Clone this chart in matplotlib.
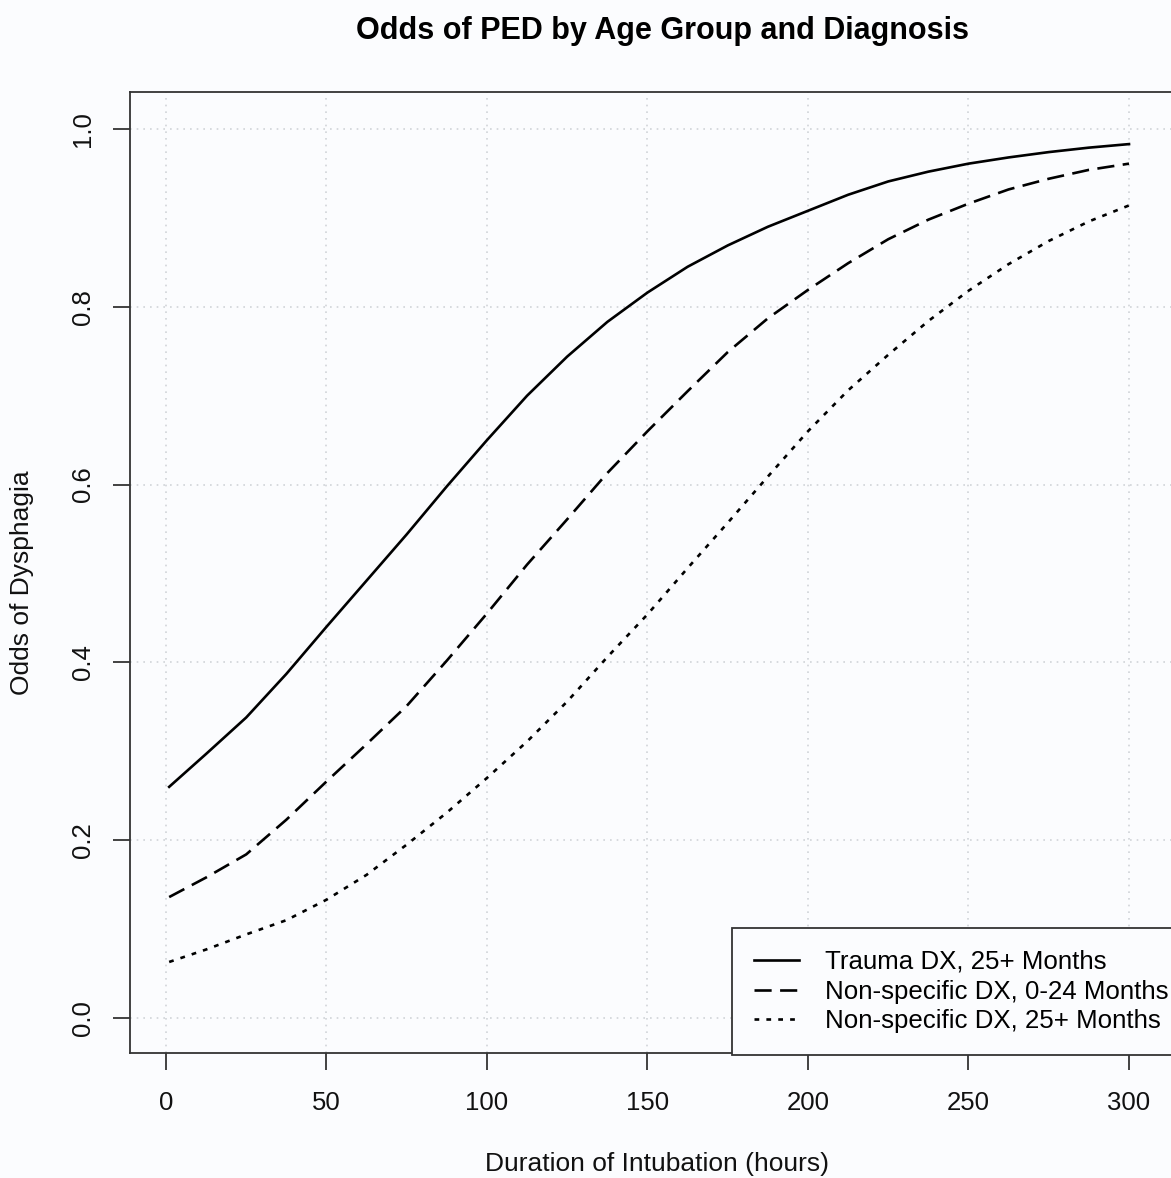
import numpy as np
import matplotlib.pyplot as plt

plt.rcParams['font.family'] = ['Liberation Sans', 'DejaVu Sans']

# predicted odds, every 12.5 hours
hours = [1, 12.5, 25, 37.5, 50, 62.5, 75, 87.5, 100, 112.5, 125, 137.5, 150,
         162.5, 175, 187.5, 200, 212.5, 225, 237.5, 250, 262.5, 275, 287.5, 300]
trauma_25plus = [0.260, 0.297, 0.338, 0.387, 0.440, 0.492, 0.544, 0.598, 0.650, 0.700, 0.744, 0.783, 0.816,
                 0.845, 0.869, 0.890, 0.908, 0.926, 0.941, 0.952, 0.961, 0.968, 0.974, 0.979, 0.983]
nonspec_0_24 = [0.136, 0.158, 0.184, 0.223, 0.266, 0.308, 0.351, 0.402, 0.455, 0.510, 0.561, 0.613, 0.660,
                0.705, 0.749, 0.787, 0.819, 0.849, 0.876, 0.898, 0.916, 0.932, 0.944, 0.954, 0.961]
nonspec_25plus = [0.063, 0.077, 0.094, 0.110, 0.133, 0.161, 0.195, 0.231, 0.270, 0.311, 0.356, 0.406, 0.454,
                  0.506, 0.557, 0.609, 0.660, 0.706, 0.746, 0.784, 0.818, 0.848, 0.874, 0.896, 0.914]

labels = ['Trauma DX, 25+ Months', 'Non-specific DX, 0-24 Months', 'Non-specific DX, 25+ Months']
xticks = [0, 50, 100, 150, 200, 250, 300]
yticks = [0.0, 0.2, 0.4, 0.6, 0.8, 1.0]

W, H = 1171, 1178
bg = '#fbfcfe'
fig = plt.figure(figsize=(W / 100, H / 100), dpi=100, facecolor=bg)
# plot region (right edge runs off the picture, like the source)
L, R, T, B = 130, 1190, 92, 1053
ax = fig.add_axes([L / W, 1 - B / H, (R - L) / W, (B - T) / H], facecolor=bg)

ax.set_xlim(-11.2, (R - 166) / 3.21)
ax.set_ylim(-0.0394, 1.0416)

ax.set_xticks(xticks)
ax.set_yticks(yticks)
ax.set_yticklabels([f'{v:.1f}' for v in yticks])
ax.grid(True, color='#d0d4d8', linestyle=(0, (1, 3)), linewidth=1.2)
ax.set_axisbelow(True)

lw = 1.9
ax.plot(hours, trauma_25plus, color='black', lw=lw, label=labels[0])
ax.plot(hours, nonspec_0_24, color='black', lw=lw, linestyle=(0, (6.5, 3.2)),
        dash_capstyle='butt', label=labels[1])
ax.plot(hours, nonspec_25plus, color='black', lw=lw, linestyle=(0, (1.8, 2.7)),
        dash_capstyle='butt', label=labels[2])

for s in ax.spines.values():
    s.set_color('#333333')
    s.set_linewidth(1.3)

ax.tick_params(axis='both', direction='out', length=12, width=1.3, color='#333333',
               labelsize=18.5, labelcolor='#111111')
ax.tick_params(axis='x', pad=15)
ax.tick_params(axis='y', pad=13)
plt.setp(ax.get_yticklabels(), rotation=90, va='center')

ax.set_xlabel('Duration of Intubation (hours)', fontsize=19, color='#111111')
ax.set_ylabel('Odds of Dysphagia', fontsize=19, color='#111111')
ax.xaxis.set_label_coords(657 / W, 1 - 1152 / H, transform=fig.transFigure)
ax.yaxis.set_label_coords(34 / W, 1 - 583 / H, transform=fig.transFigure)

fig.text(663 / W, 1 - 31 / H, 'Odds of PED by Age Group and Diagnosis',
         ha='center', va='center', fontsize=22, fontweight='bold')

leg = ax.legend(loc='upper left', bbox_to_anchor=(732 / W, 1 - 928 / H),
                bbox_transform=fig.transFigure, fontsize=18.6, frameon=True,
                fancybox=False, handlelength=1.75, handletextpad=1.0,
                labelspacing=0.22, borderpad=0.85, borderaxespad=0)
leg.get_frame().set_edgecolor('#333333')
leg.get_frame().set_linewidth(1.3)
leg.get_frame().set_facecolor(bg)
leg.get_frame().set_alpha(1)

fig.savefig('out.png', dpi=100, facecolor=bg)
